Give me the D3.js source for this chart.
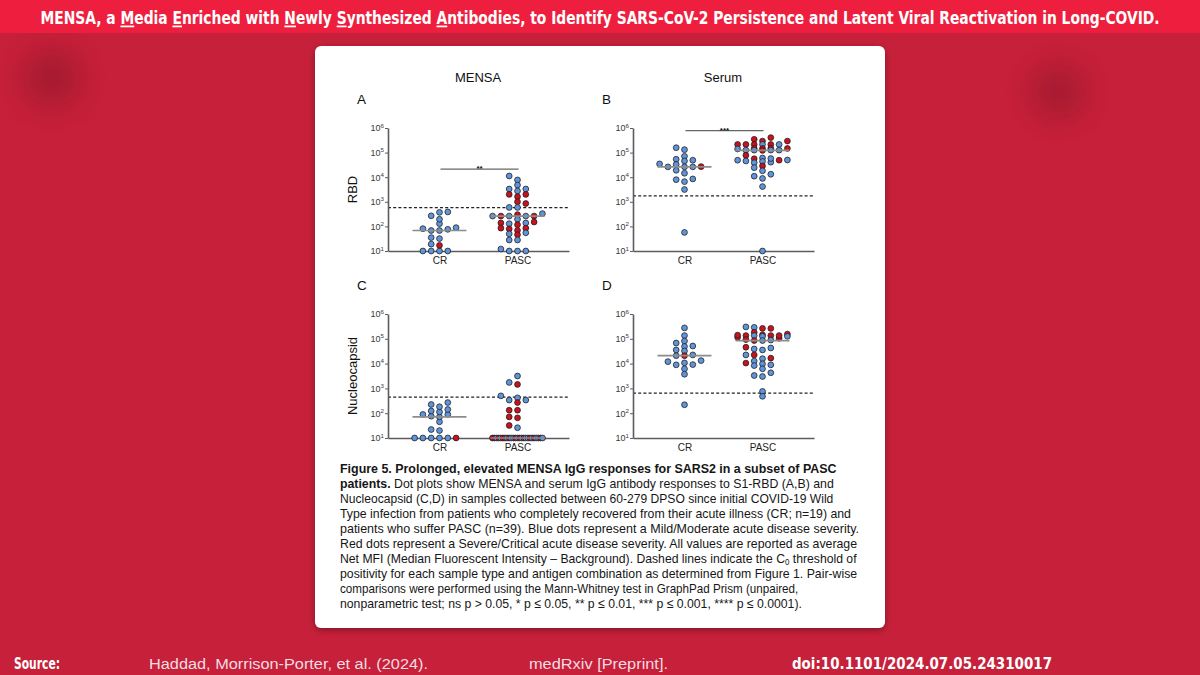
<!DOCTYPE html>
<html><head><meta charset="utf-8">
<script src="https://cdn.jsdelivr.net/npm/d3@7"></script>
<style>html,body{margin:0;padding:0;background:#c6203a;} svg{display:block}</style>
</head><body><svg id="c" width="1200" height="675"></svg>
<script>
// ---------------- DATA ----------------
const categories = ["CR", "PASC"];
const tickValues = [1e1, 1e2, 1e3, 1e4, 1e5, 1e6];
const columnTitles = ["MENSA", "Serum"];
const rowLabels = ["RBD", "Nucleocapsid"];
const panelLetters = ["A", "B", "C", "D"];
const significance = ["**", "***", "", ""];
const sigLevels = [21400, 776000, null, null];
const thresholds = [575, 1740, 445, 650];   // C0 positivity thresholds

// severity: 0 = Mild/Moderate (blue), 1 = Severe/Critical (red)
// A: MENSA RBD
const A_CR      = [10,10,10,10,17,19,32,35,89,68,76,68,81,129,195,269,372,389];
const A_CR_SEV  = [0,0,0,0,1,0,0,0,0,0,0,0,0,0,0,0,0,0];
const A_PASC    = [11200,7760,4790,3310,3310,2750,2000,2000,1620,1000,851,589,589,
                   302,263,331,263,263,263,263,195,151,129,138,117,138,79,69,85,85,
                   50,46,55,28,28,10,12,10,10];
const A_PASC_SEV= [0,0,0,0,0,0,1,1,1,1,1,0,0,
                   1,0,0,0,1,1,0,0,1,0,0,1,1,1,1,1,1,
                   0,1,0,0,0,0,0,0,0];
// B: Serum RBD
const B_CR      = [158000,132000,70800,53700,49000,45700,34700,33100,26300,26300,26300,26900,
                   19100,14500,8510,7940,6610,3160,57];
const B_CR_SEV  = [0,0,0,0,0,0,0,0,0,0,0,1,0,0,0,0,0,0,0];
const B_PASC    = [407000,347000,295000,295000,214000,214000,214000,214000,214000,214000,
                   148000,148000,141000,148000,148000,126000,126000,123000,126000,126000,
                   77600,60300,56200,49000,38900,45700,49000,43700,40700,50100,57500,
                   28800,24500,18200,13200,11000,8910,4170,10];
const B_PASC_SEV= [1,1,1,1,1,0,1,0,1,1,
                   1,1,0,1,1,0,0,1,0,0,
                   1,0,1,1,0,0,0,0,0,0,0,
                   1,0,0,0,0,0,0,0];
// C: MENSA Nucleocapsid
const C_CR      = [10,10,10,10,10,10,20,22,45,76,89,89,71,112,123,141,182,224,269];
const C_CR_SEV  = [0,0,0,0,1,0,0,0,0,0,0,0,0,0,0,0,0,0,0];
const C_PASC    = [3160,1740,1450,501,417,339,339,269,132,132,71,65,32,26,
                   10,10,10,10,10,10,10,10,10,10,10,10,10,10,10,10,10,10,10,10,10,10,10,10,10];
const C_PASC_SEV= [0,0,1,0,0,0,0,1,1,1,1,1,1,0,
                   1,1,0,1,0,1,1,0,1,0,0,1,0,1,0,1,0,0,1,0,1,0,0,1,0];
// D: Serum Nucleocapsid
const D_CR      = [275000,135000,81300,67600,51300,49000,35500,32400,20900,20900,22400,
                   13200,12000,8910,9120,10700,6170,3720,219];
const D_CR_SEV  = [0,0,0,0,0,0,0,0,1,0,0,0,0,0,0,0,0,0,0];
const D_PASC    = [288000,263000,263000,302000,182000,135000,135000,155000,115000,145000,
                   126000,141000,126000,105000,135000,135000,89100,85100,85100,93300,
                   45700,38900,35500,42700,22400,22400,16600,15800,12600,8910,9770,8320,
                   10500,6170,3310,4270,3020,759,479];
const D_PASC_SEV= [0,1,1,0,1,0,1,1,1,1,
                   0,1,0,1,1,1,0,0,1,1,
                   1,0,0,0,1,0,1,0,0,0,0,0,
                   1,0,0,0,0,0,0];

const captionLines = [
  [["b","Figure 5. Prolonged, elevated MENSA IgG responses for SARS2 in a subset of PASC"]],
  [["b","patients."],["n"," Dot plots show MENSA and serum IgG antibody responses to S1-RBD (A,B) and"]],
  [["n","Nucleocapsid (C,D) in samples collected between 60-279 DPSO since initial COVID-19 Wild"]],
  [["n","Type infection from patients who completely recovered from their acute illness (CR; n=19) and"]],
  [["n","patients who suffer PASC (n=39). Blue dots represent a Mild/Moderate acute disease severity."]],
  [["n","Red dots represent a Severe/Critical acute disease severity. All values are reported as average"]],
  [["n","Net MFI (Median Fluorescent Intensity \u2013 Background). Dashed lines indicate the C"],["sub","0"],["up"," threshold of"]],
  [["n","positivity for each sample type and antigen combination as determined from Figure 1. Pair-wise"]],
  [["n","comparisons were performed using the Mann-Whitney test in GraphPad Prism (unpaired,"]],
  [["n","nonparametric test; ns p > 0.05, * p \u2264 0.05, ** p \u2264 0.01, *** p \u2264 0.001, **** p \u2264 0.0001)."]]
];
const captionLineEnds = [837, 834, 833, 851, 859, 857, 857, 857, 798, 802];
const titleParts = [["","MENSA, a "],["u","M"],["","edia "],["u","E"],["","nriched with "],["u","N"],["","ewly "],
  ["u","S"],["","ynthesized "],["u","A"],["","ntibodies, to Identify SARS-CoV-2 Persistence and Latent Viral Reactivation in Long-COVID."]];
const sourceParts = ["Source:", "Haddad, Morrison-Porter, et al. (2024).", "medRxiv [Preprint].", "doi:10.1101/2024.07.05.24310017"];

// ---------------- DRAW ----------------
const svg = d3.select("#c");
const defs = svg.append("defs");
const blur = defs.append("filter").attr("id","blur").attr("x","-50%").attr("y","-50%").attr("width","200%").attr("height","200%");
blur.append("feGaussianBlur").attr("stdDeviation", 14);
const sh = defs.append("filter").attr("id","shadow").attr("x","-10%").attr("y","-10%").attr("width","120%").attr("height","120%");
sh.append("feDropShadow").attr("dx",0).attr("dy",2).attr("stdDeviation",3).attr("flood-color","#000").attr("flood-opacity",0.35);

svg.append("rect").attr("width",1200).attr("height",675).attr("fill","#c6203a");
[[52,78,28],[1058,92,26]].forEach(([cx,cy,r])=>{
  svg.append("circle").attr("cx",cx).attr("cy",cy).attr("r",r).attr("fill","#5a0812").attr("opacity",0.3).attr("filter","url(#blur)");
});
svg.append("rect").attr("width",1200).attr("height",33).attr("fill","#ee1f3e");

// Title
const title = svg.append("text").attr("x",600).attr("y",24.5).attr("text-anchor","middle")
  .attr("font-family","'DejaVu Sans Condensed','DejaVu Sans',sans-serif").attr("font-weight","bold")
  .attr("font-size",17.5).attr("fill","#fff");
titleParts.forEach(([k,t])=>{ const s=title.append("tspan").text(t); if(k==="u") s.attr("text-decoration","underline"); });
function fit(sel, cx, target){ const w = sel.node().getBBox().width; const sx = target/w;
  sel.attr("transform",`translate(${cx},0) scale(${sx},1) translate(${-cx},0)`); }
fit(title, 600, 1120);

// Card
svg.append("rect").attr("x",315).attr("y",46).attr("width",570).attr("height",582).attr("rx",6)
  .attr("fill","#fff").attr("filter","url(#shadow)");

const FONT = "'Liberation Sans', Arial, Helvetica, sans-serif";
const BLUE = "#5f94da", RED = "#c8121e";
const colAxisX = [388, 633];
const rowExtent = [[128, 251], [314, 438]];
const plotW = 181;

const panels = [
  {col:0,row:0,cr:A_CR,crSev:A_CR_SEV,pasc:A_PASC,pascSev:A_PASC_SEV},
  {col:1,row:0,cr:B_CR,crSev:B_CR_SEV,pasc:B_PASC,pascSev:B_PASC_SEV},
  {col:0,row:1,cr:C_CR,crSev:C_CR_SEV,pasc:C_PASC,pascSev:C_PASC_SEV},
  {col:1,row:1,cr:D_CR,crSev:D_CR_SEV,pasc:D_PASC,pascSev:D_PASC_SEV}
];

// Prism-like scatter-dot layout: stack coincident dots side by side, at most 7 columns wide
function swarm(values, sev, cx, y){
  const s = 8.3, d = 4.3, maxK = 3, maxHalf = 25;
  const pts = values.map((v,i)=>({v, sev:sev[i], y:y(v), i}));
  const placed = [];
  const counts = d3.rollup(pts, g=>g.length, p=>p.v);
  for (const [v,c] of counts) if (c > 7) {
    const g = pts.filter(p=>p.v===v);
    const step = Math.min(s, 2*maxHalf/(c-1));
    g.forEach((p,k)=>{ p.x = cx + (k-(c-1)/2)*step; p.done = true; placed.push(p); });
  }
  const slots = [0]; for (let m=1;m<=maxK;m++){ slots.push(-m, m); }
  const sorted = pts.slice().sort((a,b)=>a.v-b.v);
  for (const p of sorted){
    if (p.done) continue;
    let best = null, bestGap = -1;
    for (const k of slots){
      const x = cx + k*s;
      const coll = placed.filter(q=>Math.abs(q.x-x) < s-0.01);
      const gap = coll.length ? d3.min(coll, q=>Math.abs(q.y-p.y)) : Infinity;
      if (gap >= d){ best = x; break; }
      if (gap > bestGap){ bestGap = gap; best = x; }
    }
    p.x = best; placed.push(p);
  }
  return pts;
}

panels.forEach((p, idx)=>{
  const ax = colAxisX[p.col], [yT, yB] = rowExtent[p.row];
  const y = d3.scaleLog().domain([10, 1e6]).range([yB, yT]);
  const x = d3.scalePoint().domain(categories).range([ax, ax+plotW]).padding(0.66);
  const g = svg.append("g");

  g.append("line").attr("x1",ax).attr("x2",ax+plotW).attr("y1",y(thresholds[idx])).attr("y2",y(thresholds[idx]))
    .attr("stroke","#222").attr("stroke-width",1.2).attr("stroke-dasharray","3,2.2");

  const ya = g.append("g").attr("transform",`translate(${ax},0)`)
    .call(d3.axisLeft(y).tickValues(tickValues).tickSize(3).tickSizeOuter(0).tickPadding(1).tickFormat(()=>""));
  ya.selectAll(".tick text").each(function(d){
    const t = d3.select(this);
    t.append("tspan").text("10");
    t.append("tspan").attr("dy",-3.8).attr("font-size",6.2).text(Math.round(Math.log10(d)));
  });
  ya.attr("font-size",9).attr("font-family",FONT);
  ya.selectAll("text").attr("fill","#3a3a3a");
  ya.select(".domain").attr("stroke","#5c5c5c").attr("stroke-width",1.6);
  ya.selectAll(".tick line").attr("stroke","#5c5c5c").attr("stroke-width",1);

  const xa = g.append("g").attr("transform",`translate(0,${yB})`)
    .call(d3.axisBottom(x).tickSize(0).tickSizeOuter(0).tickPadding(5.5));
  xa.attr("font-size",10).attr("font-family",FONT);
  xa.selectAll("text").attr("fill","#222");
  xa.select(".domain").attr("stroke","#5c5c5c").attr("stroke-width",1.6);

  const groups = [[categories[0], p.cr, p.crSev], [categories[1], p.pasc, p.pascSev]];
  groups.forEach(([cat, vals, sev])=>{
    const pts = swarm(vals, sev, x(cat), y);
    g.append("g").selectAll("circle").data(pts).join("circle")
      .attr("cx",d=>d.x).attr("cy",d=>d.y).attr("r",2.9)
      .attr("fill",d=>d.sev ? RED : BLUE).attr("stroke","#1c1c1c").attr("stroke-width",0.75);
  });
  groups.forEach(([cat, vals])=>{
    const m = d3.median(vals);
    g.append("line").attr("x1",x(cat)-27).attr("x2",x(cat)+27).attr("y1",y(m)).attr("y2",y(m))
      .attr("stroke","#8c8c8c").attr("stroke-width",1.7);
  });

  if (significance[idx]){
    const sy = y(sigLevels[idx]);
    g.append("line").attr("x1",x("CR")+1).attr("x2",x("PASC")+1).attr("y1",sy).attr("y2",sy)
      .attr("stroke","#666").attr("stroke-width",1.3);
    g.append("text").attr("x",(x("CR")+x("PASC"))/2+1).attr("y",sy+1.8).attr("text-anchor","middle")
      .attr("font-family",FONT).attr("font-weight","bold").attr("font-size",8).attr("fill","#111").text(significance[idx]);
  }

  g.append("text").attr("x",ax-31).attr("y",yT-24).attr("font-family",FONT).attr("font-size",13.5)
    .attr("fill","#111").text(panelLetters[idx]);
  if (p.row===0) g.append("text").attr("x",ax+90).attr("y",yT-46).attr("text-anchor","middle")
    .attr("font-family",FONT).attr("font-size",13).attr("fill","#111").text(columnTitles[p.col]);
  if (p.col===0) g.append("text").attr("transform",`translate(${ax-31},${(yT+yB)/2}) rotate(-90)`)
    .attr("text-anchor","middle").attr("font-family",FONT).attr("font-size",13).attr("fill","#111").text(rowLabels[p.row]);
});

// Caption (each line fitted to the reference line width)
captionLines.forEach((line, i)=>{
  const t = svg.append("text").attr("x",340).attr("y",473 + i*15).attr("font-family",FONT)
    .attr("font-size",13.2).attr("fill","#161616");
  line.forEach(([k, s])=>{
    const ts = t.append("tspan").text(s);
    if (k==="b") ts.attr("font-weight","bold");
    if (k==="sub") ts.attr("font-size",8.5).attr("dy",2);
    if (k==="up") ts.attr("dy",-2);
  });
  fit(t, 340, captionLineEnds[i] - 340);
});

// Source line
const srcX = [14, 149, 529, 792], srcW = [46, 279, 139, 260];
sourceParts.forEach((s, i)=>{
  const bold = (i===0 || i===3);
  const t = svg.append("text").attr("x",srcX[i]).attr("y",668.5)
    .attr("font-family", bold ? "'DejaVu Sans Condensed','DejaVu Sans',sans-serif" : "'Liberation Sans Narrow','Liberation Sans',sans-serif")
    .attr("font-weight", bold ? "bold" : "normal").attr("font-size",15.5)
    .attr("fill", bold ? "#ffffff" : "#f3dde0").text(s);
  t.attr("textLength", srcW[i]).attr("lengthAdjust","spacingAndGlyphs");
});
</script></body></html>
